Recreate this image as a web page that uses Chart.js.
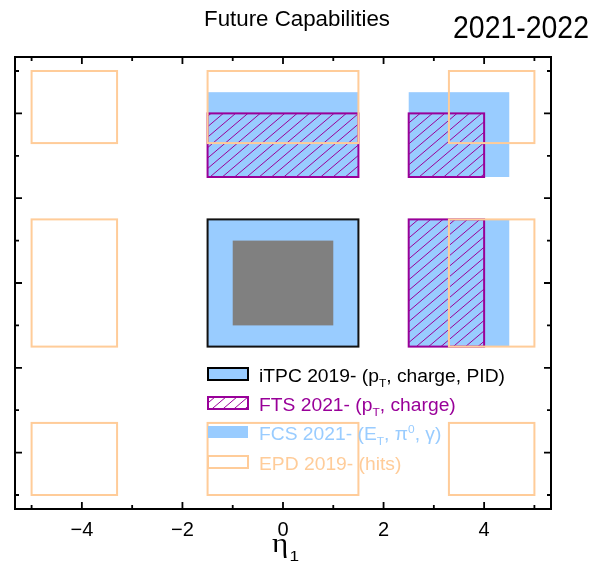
<!DOCTYPE html>
<html>
<head>
<meta charset="utf-8">
<script src="https://cdn.jsdelivr.net/npm/chart.js@4.4.1/dist/chart.umd.min.js"></script>
<style>
  html, body { margin: 0; padding: 0; background: #ffffff; }
  #wrap { width: 593px; height: 563px; position: relative; }
</style>
</head>
<body>
<div id="wrap"><canvas id="c" width="593" height="563"></canvas></div>
<script>
// Axis ranges and tick values (eta_1 on x, eta_2 on y)
const etaMin = -5.33;
const etaMax = 5.33;
const xTickValues = [-4, -2, 0, 2, 4];
const minorTickValues = [-5, -4, -3, -2, -1, 0, 1, 2, 3, 4, 5];

// Acceptance regions: [eta1 low, eta1 high, eta2 low, eta2 high]
const itpcBoxes = [[-1.5, 1.5, -1.5, 1.5]];
const itpcCoreBoxes = [[-1.0, 1.0, -1.0, 1.0]];
const fcsBoxes = [
  [-1.5, 1.5, 2.5, 4.5],
  [2.5, 4.5, 2.5, 4.5],
  [2.5, 4.5, -1.5, 1.5]
];
const ftsBoxes = [
  [-1.5, 1.5, 2.5, 4.0],
  [2.5, 4.0, 2.5, 4.0],
  [2.5, 4.0, -1.5, 1.5]
];
const epdBoxes = [
  [-5.0, -3.3, 3.3, 5.0],
  [-1.5, 1.5, 3.3, 5.0],
  [3.3, 5.0, 3.3, 5.0],
  [-5.0, -3.3, -1.5, 1.5],
  [3.3, 5.0, -1.5, 1.5],
  [-5.0, -3.3, -5.0, -3.3],
  [-1.5, 1.5, -5.0, -3.3],
  [3.3, 5.0, -5.0, -3.3]
];

// Legend entries as rich-text runs: [text, 'sub' | 'sup' | undefined]
const legendKeys = ['itpc', 'fts', 'fcs', 'epd'];
const legendTexts = [
  [['iTPC 2019- (p'], ['T', 'sub'], [', charge, PID)']],
  [['FTS 2021- (p'], ['T', 'sub'], [', charge)']],
  [['FCS 2021- (E'], ['T', 'sub'], [', \u03C0'], ['0', 'sup'], [', \u03B3)']],
  [['EPD 2019- (hits)']]
];
const titleText = 'Future Capabilities';
const yearText = '2021-2022';

const BLUE = '#99ccff';
const GREY = '#808080';
const PURPLE = '#990099';
const ORANGE = '#ffcc99';
const FONT = '"Liberation Sans", Arial, Helvetica, sans-serif';

function boxPx(chart, b) {
  const xs = chart.scales.x, ys = chart.scales.y;
  const x0 = xs.getPixelForValue(b[0]), x1 = xs.getPixelForValue(b[1]);
  const y0 = ys.getPixelForValue(b[3]), y1 = ys.getPixelForValue(b[2]);
  return { x: x0, y: y0, w: x1 - x0, h: y1 - y0 };
}

function hatch(ctx, r, spacing, slope, color, width) {
  ctx.save();
  ctx.beginPath();
  ctx.rect(r.x, r.y, r.w, r.h);
  ctx.clip();
  ctx.strokeStyle = color;
  ctx.lineWidth = width;
  const top = r.y, bot = r.y + r.h;
  const cMin = r.x + top / slope, cMax = r.x + r.w + bot / slope;
  ctx.beginPath();
  for (let k = Math.floor(cMin / spacing); k * spacing <= cMax; k++) {
    const c = k * spacing;
    ctx.moveTo(c - bot / slope, bot);
    ctx.lineTo(c - top / slope, top);
  }
  ctx.stroke();
  ctx.restore();
}

function fillBox(ctx, r, color) {
  ctx.fillStyle = color;
  ctx.fillRect(r.x, r.y, r.w, r.h);
}
function strokeBox(ctx, r, color, width) {
  ctx.strokeStyle = color;
  ctx.lineWidth = width;
  ctx.strokeRect(r.x, r.y, r.w, r.h);
}

// rich text with horizontal stretch sx
function richWidth(ctx, runs, size) {
  let w = 0;
  runs.forEach(([t, mode]) => {
    const s = mode ? size * 0.62 : size;
    ctx.font = s + 'px ' + FONT;
    w += ctx.measureText(t).width;
  });
  return w;
}
function drawRich(ctx, runs, x, y, size, sx, color) {
  ctx.save();
  ctx.translate(x, y);
  ctx.scale(sx, 1);
  ctx.fillStyle = color;
  ctx.textBaseline = 'alphabetic';
  ctx.textAlign = 'left';
  let cx = 0;
  runs.forEach(([t, mode]) => {
    const s = mode ? size * 0.62 : size;
    ctx.font = s + 'px ' + FONT;
    const dy = mode === 'sub' ? size * 0.28 : (mode === 'sup' ? -size * 0.42 : 0);
    ctx.fillText(t, cx, dy);
    cx += ctx.measureText(t).width;
  });
  ctx.restore();
}
function drawStretched(ctx, text, x, y, font, targetW, color) {
  ctx.save();
  ctx.font = font;
  const w = ctx.measureText(text).width;
  ctx.translate(x, y);
  ctx.scale(targetW / w, 1);
  ctx.fillStyle = color;
  ctx.textBaseline = 'alphabetic';
  ctx.textAlign = 'left';
  ctx.fillText(text, 0, 0);
  ctx.restore();
}

const acceptancePlugin = {
  id: 'acceptance',
  beforeDatasetsDraw(chart) {
    const ctx = chart.ctx;
    ctx.save();
    fcsBoxes.forEach(b => fillBox(ctx, boxPx(chart, b), BLUE));
    itpcBoxes.forEach(b => fillBox(ctx, boxPx(chart, b), BLUE));
    itpcCoreBoxes.forEach(b => fillBox(ctx, boxPx(chart, b), GREY));
    itpcBoxes.forEach(b => strokeBox(ctx, boxPx(chart, b), '#111111', 2));
    ftsBoxes.forEach(b => {
      const r = boxPx(chart, b);
      hatch(ctx, r, 12.3, 0.85, PURPLE, 1);
      strokeBox(ctx, r, PURPLE, 2);
    });
    epdBoxes.forEach(b => strokeBox(ctx, boxPx(chart, b), ORANGE, 2));
    ctx.restore();
  },
  afterDraw(chart) {
    const ctx = chart.ctx;
    const a = chart.chartArea;
    const xs = chart.scales.x, ys = chart.scales.y;
    ctx.save();
    // frame
    ctx.strokeStyle = '#000000';
    ctx.lineWidth = 2;
    ctx.strokeRect(a.left, a.top, a.right - a.left, a.bottom - a.top);
    // inward ticks on all four sides
    ctx.lineWidth = 1.8;
    ctx.beginPath();
    minorTickValues.forEach(v => {
      const len = (v % 2 === 0) ? 7 : 4;
      const px = xs.getPixelForValue(v);
      ctx.moveTo(px, a.bottom); ctx.lineTo(px, a.bottom - len);
      ctx.moveTo(px, a.top); ctx.lineTo(px, a.top + len);
      const py = ys.getPixelForValue(v);
      ctx.moveTo(a.left, py); ctx.lineTo(a.left + len, py);
      ctx.moveTo(a.right, py); ctx.lineTo(a.right - len, py);
    });
    ctx.stroke();

    // legend
    const symX = 208, symW = 40, symH = 12;
    const rowTop = [368, 397, 426, 456];
    const textX = 259, size = 17.5;
    const sx = 246 / richWidth(ctx, legendTexts[0], size);
    const colors = { itpc: '#000000', fts: PURPLE, fcs: BLUE, epd: ORANGE };
    legendKeys.forEach((key, i) => {
      const r = { x: symX, y: rowTop[i], w: symW, h: symH };
      if (key === 'itpc') {
        fillBox(ctx, r, BLUE);
        strokeBox(ctx, r, '#000000', 2);
      } else if (key === 'fts') {
        fillBox(ctx, r, '#ffffff');
        hatch(ctx, r, 11, 0.85, PURPLE, 1);
        strokeBox(ctx, r, PURPLE, 2);
      } else if (key === 'fcs') {
        fillBox(ctx, r, BLUE);
      } else {
        fillBox(ctx, r, '#ffffff');
        strokeBox(ctx, r, ORANGE, 2);
      }
      drawRich(ctx, legendTexts[i], textX, rowTop[i] + 14, size, sx, colors[key]);
    });

    // titles
    drawStretched(ctx, titleText, 204, 26, '22px ' + FONT, 186, '#000000');
    drawStretched(ctx, yearText, 453, 38, '31px ' + FONT, 136, '#000000');

    // x axis title: eta_1
    ctx.save();
    ctx.translate(272, 552);
    ctx.scale(1.15, 1);
    ctx.fillStyle = '#000000';
    ctx.font = '27px "Liberation Serif", "DejaVu Serif", serif';
    ctx.textBaseline = 'alphabetic';
    ctx.fillText('\u03B7', 0, 0);
    const ew = ctx.measureText('\u03B7').width;
    ctx.font = '15px ' + FONT;
    ctx.fillText('1', ew + 1, 9);
    ctx.restore();

    ctx.restore();
  }
};

new Chart(document.getElementById('c'), {
  type: 'scatter',
  data: { datasets: [] },
  options: {
    responsive: false,
    animation: false,
    devicePixelRatio: 1,
    layout: { padding: { left: 15, right: 42, top: 57, bottom: 0 } },
    plugins: { legend: { display: false }, tooltip: { enabled: false }, title: { display: false } },
    scales: {
      x: {
        type: 'linear',
        min: etaMin,
        max: etaMax,
        afterFit: s => { s.height = 54; },
        afterBuildTicks: s => { s.ticks = xTickValues.map(v => ({ value: v })); },
        grid: { display: false, drawTicks: false },
        border: { display: false },
        ticks: {
          padding: 9,
          color: '#000000',
          font: { family: FONT, size: 20 },
          maxRotation: 0,
          autoSkip: false,
          callback: v => (v < 0 ? '\u2212' + Math.abs(v) : String(v))
        }
      },
      y: {
        type: 'linear',
        display: false,
        min: etaMin,
        max: etaMax
      }
    }
  },
  plugins: [acceptancePlugin]
});
</script>
</body>
</html>
